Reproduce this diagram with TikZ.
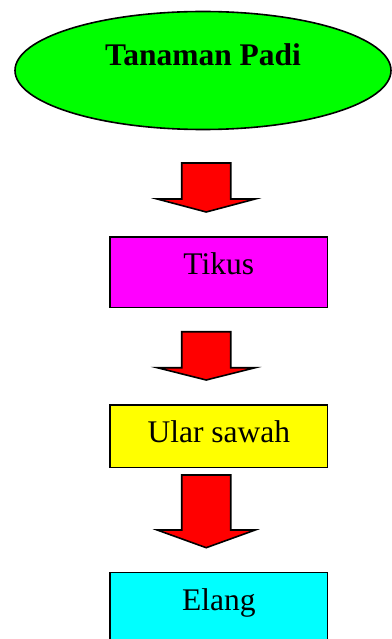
\documentclass[tikz,border=0pt]{standalone}
\usepackage{fontspec}
\setmainfont{Liberation Serif}
\usetikzlibrary{shapes.geometric}

\definecolor{hijau}{RGB}{0,255,0}
\definecolor{ungu}{RGB}{255,0,255}
\definecolor{kuning}{RGB}{255,255,0}
\definecolor{biru}{RGB}{0,255,255}
\definecolor{merah}{RGB}{255,0,0}

% block arrow: centre x, top, shoulder, tip
\newcommand{\panah}[4]{%
\filldraw[panahblok] (#1-24.5,#2) -- (#1+24.5,#2) -- (#1+24.5,#3) -- (#1+49,#3)
  -- (#1,#4) -- (#1-49,#3) -- (#1-24.5,#3) -- cycle;}

\begin{document}
\begin{tikzpicture}[x=1pt,y=-1pt,
  font=\fontsize{31.5pt}{36pt}\selectfont,
  kotak/.style={draw, line width=1.6pt, anchor=north, minimum width=217.7pt,
    inner xsep=0pt, inner ysep=0pt, text height=38pt},
  panahblok/.style={fill=merah, draw=black, line width=1.6pt, line join=miter}]
\useasboundingbox (0,0) rectangle (391,639);

\node[ellipse, draw, line width=1.6pt, fill=hijau, minimum width=376pt, minimum height=118pt,
  inner sep=0pt, font=\fontsize{31.5pt}{36pt}\selectfont\bfseries,
  text height=22pt, text depth=31pt] (padi) at (203,70.5) {Tanaman Padi};

\node[kotak, fill=ungu, text depth=32.7pt] (tikus) at (218.8,236) {Tikus};
\node[kotak, fill=kuning, text depth=24.7pt] (ular) at (218.8,404) {Ular sawah};
\node[kotak, fill=biru, text depth=34pt] (elang) at (218.8,571.7) {Elang};

\panah{206.2}{163}{199}{212}
\panah{206.2}{331.7}{367.7}{380}
\panah{206.2}{475}{530}{547.7}
\end{tikzpicture}
\end{document}
